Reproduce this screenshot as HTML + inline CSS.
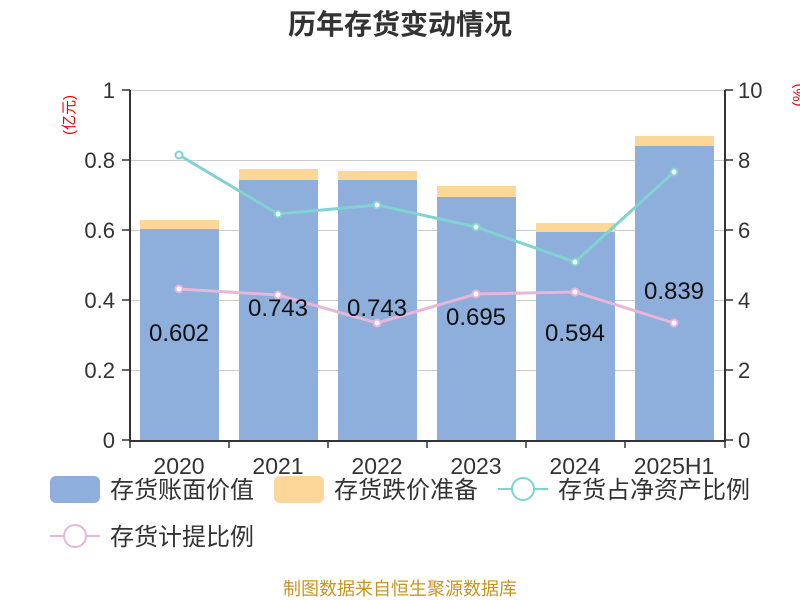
<!DOCTYPE html>
<html><head><meta charset="utf-8"><style>body{margin:0;background:#fff}svg{display:block}</style></head><body>
<svg width="800" height="600" xmlns="http://www.w3.org/2000/svg" font-family="Liberation Sans, Noto Sans CJK SC, sans-serif">
<text x="400" y="34" text-anchor="middle" font-size="28" font-weight="bold" fill="#333">历年存货变动情况</text>
<g stroke="#ccc" stroke-width="1">
<line x1="130" y1="90.5" x2="725" y2="90.5"/><line x1="130" y1="160.5" x2="725" y2="160.5"/><line x1="130" y1="230.5" x2="725" y2="230.5"/><line x1="130" y1="300.5" x2="725" y2="300.5"/><line x1="130" y1="370.5" x2="725" y2="370.5"/>
</g>
<g fill="#8eaedb">
<rect x="140" y="229" width="79" height="211"/><rect x="239" y="180" width="79" height="260"/><rect x="338" y="180" width="79" height="260"/><rect x="437" y="197" width="79" height="243"/><rect x="536" y="232" width="79" height="208"/><rect x="635" y="146" width="79" height="294"/>
</g>
<g fill="#fdd797">
<rect x="140" y="220" width="79" height="9"/><rect x="239" y="169" width="79" height="11"/><rect x="338" y="171" width="79" height="9"/><rect x="437" y="186" width="79" height="11"/><rect x="536" y="223" width="79" height="9"/><rect x="635" y="136" width="79" height="10"/>
</g>
<g stroke="#333" stroke-width="2" fill="none">
<line x1="130" y1="90" x2="130" y2="441"/><line x1="725" y1="90" x2="725" y2="441"/><line x1="129" y1="441" x2="726" y2="441"/>
</g>
<g stroke="#333" stroke-width="1.5">
<line x1="122" y1="90" x2="130" y2="90"/><line x1="122" y1="160" x2="130" y2="160"/><line x1="122" y1="230" x2="130" y2="230"/><line x1="122" y1="300" x2="130" y2="300"/><line x1="122" y1="370" x2="130" y2="370"/><line x1="122" y1="440" x2="130" y2="440"/>
<line x1="725" y1="90" x2="733" y2="90"/><line x1="725" y1="160" x2="733" y2="160"/><line x1="725" y1="230" x2="733" y2="230"/><line x1="725" y1="300" x2="733" y2="300"/><line x1="725" y1="370" x2="733" y2="370"/><line x1="725" y1="440" x2="733" y2="440"/>
<line x1="130" y1="441" x2="130" y2="448"/><line x1="229" y1="441" x2="229" y2="448"/><line x1="328" y1="441" x2="328" y2="448"/><line x1="427" y1="441" x2="427" y2="448"/><line x1="526" y1="441" x2="526" y2="448"/><line x1="625" y1="441" x2="625" y2="448"/><line x1="725" y1="441" x2="725" y2="448"/>
</g>
<g font-size="22" fill="#333" text-anchor="end">
<text x="115" y="98">1</text><text x="115" y="168">0.8</text><text x="115" y="238">0.6</text><text x="115" y="308">0.4</text><text x="115" y="378">0.2</text><text x="115" y="448">0</text>
</g>
<g font-size="22" fill="#333">
<text x="738" y="98">10</text><text x="738" y="168">8</text><text x="738" y="238">6</text><text x="738" y="308">4</text><text x="738" y="378">2</text><text x="738" y="448">0</text>
</g>
<g font-size="23" fill="#333" text-anchor="middle">
<text x="179" y="474">2020</text><text x="278" y="474">2021</text><text x="377" y="474">2022</text><text x="476" y="474">2023</text><text x="575" y="474">2024</text><text x="674" y="474">2025H1</text>
</g>
<text transform="translate(74,115) rotate(-90)" font-size="15" fill="#e00" text-anchor="middle">(亿元)</text>
<text transform="translate(803,95) rotate(-90)" font-size="15" fill="#e00" text-anchor="middle">(%)</text>
<polyline points="179,289 278,295 377,323 476,294 575,292 674,323" fill="none" stroke="#e8b6d8" stroke-width="3"/>
<polyline points="179,155 278,214 377,205 476,227 575,262 674,172" fill="none" stroke="#7fd3d1" stroke-width="3"/>
<g fill="#fff" stroke="#e8b6d8" stroke-width="2">
<circle cx="179" cy="289" r="3.5"/><circle cx="278" cy="295" r="3.5"/><circle cx="377" cy="323" r="3.5"/><circle cx="476" cy="294" r="3.5"/><circle cx="575" cy="292" r="3.5"/><circle cx="674" cy="323" r="3.5"/>
</g>
<g fill="#fff" stroke="#7fd3d1" stroke-width="2">
<circle cx="179" cy="155" r="3.5"/><circle cx="278" cy="214" r="3.5"/><circle cx="377" cy="205" r="3.5"/><circle cx="476" cy="227" r="3.5"/><circle cx="575" cy="262" r="3.5"/><circle cx="674" cy="172" r="3.5"/>
</g>
<g font-size="24" fill="#111" text-anchor="middle">
<text x="179" y="341">0.602</text><text x="278" y="316">0.743</text><text x="377" y="316">0.743</text><text x="476" y="325">0.695</text><text x="575" y="341">0.594</text><text x="674" y="299">0.839</text>
</g>
<rect x="50" y="476" width="50" height="27" rx="6" fill="#8eaedb"/>
<text x="110" y="498" font-size="24" fill="#333">存货账面价值</text>
<rect x="274" y="476" width="50" height="27" rx="6" fill="#fdd797"/>
<text x="334" y="498" font-size="24" fill="#333">存货跌价准备</text>
<line x1="498" y1="489" x2="548" y2="489" stroke="#7fd3d1" stroke-width="2"/>
<circle cx="523" cy="489" r="11" fill="#fff" stroke="#7fd3d1" stroke-width="2"/>
<text x="558" y="498" font-size="24" fill="#333">存货占净资产比例</text>
<line x1="50" y1="536" x2="100" y2="536" stroke="#e8b6d8" stroke-width="2"/>
<circle cx="75" cy="536" r="11" fill="#fff" stroke="#e8b6d8" stroke-width="2"/>
<text x="110" y="545" font-size="24" fill="#333">存货计提比例</text>
<text x="400" y="595" text-anchor="middle" font-size="18" fill="#c8951f">制图数据来自恒生聚源数据库</text>
</svg>
</body></html>
